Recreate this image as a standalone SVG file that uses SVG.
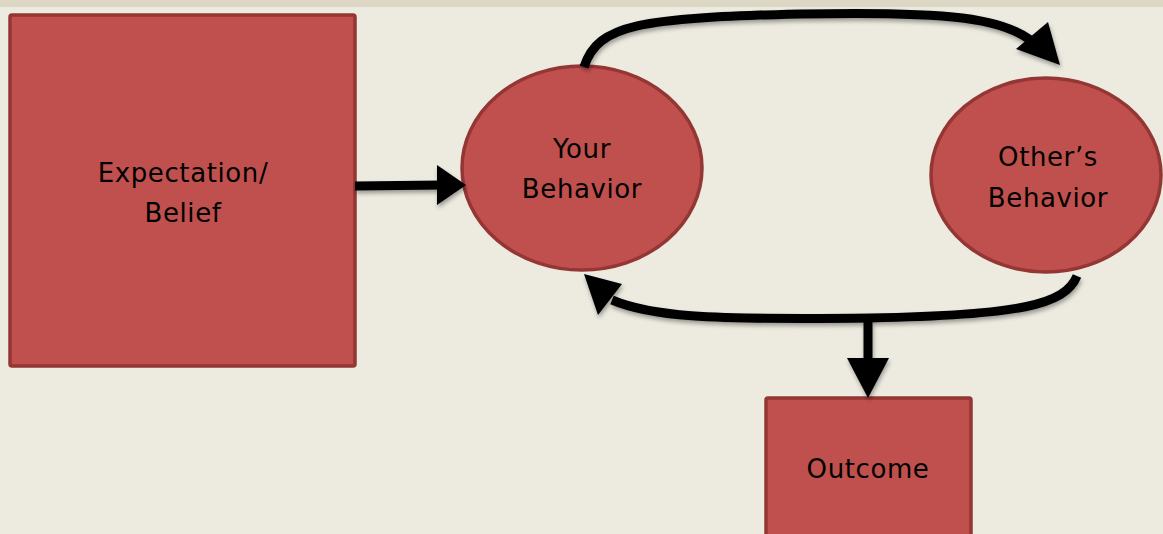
<svg xmlns="http://www.w3.org/2000/svg" width="1163" height="534" viewBox="0 0 1163 534">
<defs>
<filter id="sh" x="-10%" y="-10%" width="130%" height="140%">
<feDropShadow dx="1" dy="3" stdDeviation="2" flood-color="#000" flood-opacity="0.35"/>
</filter>
<style>
.node{fill:#c0504d;stroke:#943634;stroke-width:3.5}
.lbl{font-family:"DejaVu Sans","Liberation Sans",sans-serif;font-size:26px;letter-spacing:0.6px;fill:#000;text-anchor:middle}
.ln{fill:none;stroke:#000;stroke-width:9}
.hd{fill:#000;stroke:none}
</style>
</defs>
<rect x="0" y="0" width="1163" height="534" fill="#edebe0"/>
<rect x="0" y="0" width="1163" height="7" fill="#ddd8c5"/>
<g id="expectation">
<rect class="node" x="10" y="15" width="345" height="351" rx="2"/>
<text class="lbl" x="183" y="182">Expectation/</text>
<text class="lbl" x="183" y="222">Belief</text>
</g>
<g id="your-behavior">
<ellipse class="node" cx="582" cy="168" rx="120" ry="102"/>
<text class="lbl" x="582" y="158">Your</text>
<text class="lbl" x="582" y="198">Behavior</text>
</g>
<g id="others-behavior">
<ellipse class="node" cx="1046" cy="175" rx="115" ry="97"/>
<text class="lbl" x="1048" y="166">Other’s</text>
<text class="lbl" x="1048" y="207">Behavior</text>
</g>
<g id="outcome">
<rect class="node" x="766" y="398" width="205" height="145" rx="2"/>
<text class="lbl" x="868" y="478">Outcome</text>
</g>
<g id="connectors" filter="url(#sh)">
<path class="ln" d="M355,186 L442,185"/>
<polygon class="hd" points="437,165 466,185 437,205"/>
<path class="ln" d="M584,67 C598,24 640,18 800,14 C950,11 1005,18 1034,43"/>
<polygon class="hd" points="1016,49 1048,22 1060,65"/>
<path class="ln" d="M1077,276 C1065,305 1020,315 870,318 C700,320 650,316 612,300"/>
<polygon class="hd" points="622,284 598,315 584,274"/>
<path class="ln" d="M868,318 L868,360"/>
<polygon class="hd" points="847,358 889,358 868,398"/>
</g>
</svg>
